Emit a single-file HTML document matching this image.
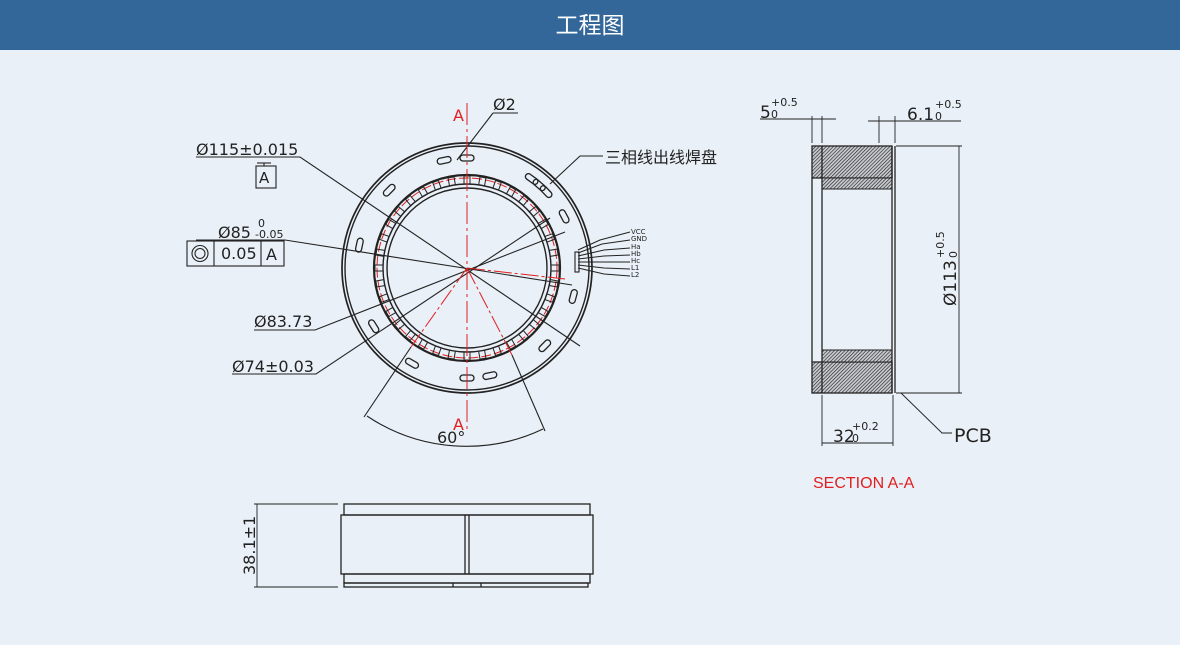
<!DOCTYPE html>
<html><head><meta charset="utf-8"><style>
html,body{margin:0;padding:0;width:1180px;height:645px;background:#eaf0f7;overflow:hidden}
.hd{position:absolute;left:0;top:0;width:1180px;height:50px;background:#336699;color:#fff;font:23px "Liberation Sans","Noto Sans CJK SC",sans-serif;text-align:center;line-height:50px}
svg{position:absolute;left:0;top:0}
text{font-family:"DejaVu Sans","Liberation Sans","Noto Sans CJK SC",sans-serif;fill:#222}
</style></head><body>
<div class="hd">工程图</div>
<svg width="1180" height="645" viewBox="0 0 1180 645">
<defs>
<pattern id="h" width="2.5" height="2.5" patternUnits="userSpaceOnUse" patternTransform="rotate(45)"><rect width="2.5" height="2.5" fill="#c8ccd2"/><line x1="0" y1="0" x2="0" y2="2.5" stroke="#222" stroke-width="1.3"/></pattern>
<rect id="t" x="464" y="176" width="6" height="8" fill="none" stroke="#222" stroke-width="1"/>
<rect id="s" x="460" y="155" width="14" height="6" rx="3" fill="none" stroke="#222" stroke-width="1.3"/>
</defs>
<g fill="none" stroke="#222" stroke-width="1.4">
<circle cx="467" cy="268" r="125" stroke-width="1.7"/>
<circle cx="467" cy="268" r="122"/>
<circle cx="467" cy="268" r="93" stroke-width="2.2"/>
<circle cx="467" cy="268" r="84"/>
<circle cx="467" cy="268" r="80"/>
</g>
<circle cx="467" cy="268" r="90" fill="none" stroke="#e02020" stroke-width="1" stroke-dasharray="10 3"/>
<g>
<use href="#t"/><use href="#t" transform="rotate(10 467 268)"/><use href="#t" transform="rotate(20 467 268)"/><use href="#t" transform="rotate(30 467 268)"/><use href="#t" transform="rotate(40 467 268)"/><use href="#t" transform="rotate(50 467 268)"/><use href="#t" transform="rotate(60 467 268)"/><use href="#t" transform="rotate(70 467 268)"/><use href="#t" transform="rotate(80 467 268)"/><use href="#t" transform="rotate(90 467 268)"/><use href="#t" transform="rotate(100 467 268)"/><use href="#t" transform="rotate(110 467 268)"/><use href="#t" transform="rotate(120 467 268)"/><use href="#t" transform="rotate(130 467 268)"/><use href="#t" transform="rotate(140 467 268)"/><use href="#t" transform="rotate(150 467 268)"/><use href="#t" transform="rotate(160 467 268)"/><use href="#t" transform="rotate(170 467 268)"/><use href="#t" transform="rotate(180 467 268)"/><use href="#t" transform="rotate(190 467 268)"/><use href="#t" transform="rotate(200 467 268)"/><use href="#t" transform="rotate(210 467 268)"/><use href="#t" transform="rotate(220 467 268)"/><use href="#t" transform="rotate(230 467 268)"/><use href="#t" transform="rotate(240 467 268)"/><use href="#t" transform="rotate(250 467 268)"/><use href="#t" transform="rotate(260 467 268)"/><use href="#t" transform="rotate(270 467 268)"/><use href="#t" transform="rotate(280 467 268)"/><use href="#t" transform="rotate(290 467 268)"/><use href="#t" transform="rotate(300 467 268)"/><use href="#t" transform="rotate(310 467 268)"/><use href="#t" transform="rotate(320 467 268)"/><use href="#t" transform="rotate(330 467 268)"/><use href="#t" transform="rotate(340 467 268)"/><use href="#t" transform="rotate(350 467 268)"/>
</g>
<g>
<use href="#s"/><use href="#s" transform="rotate(-12 467 268)"/><use href="#s" transform="rotate(-45 467 268)"/><use href="#s" transform="rotate(-78 467 268)"/><use href="#s" transform="rotate(-122 467 268)"/><use href="#s" transform="rotate(-150 467 268)"/><use href="#s" transform="rotate(180 467 268)"/><use href="#s" transform="rotate(168 467 268)"/><use href="#s" transform="rotate(135 467 268)"/><use href="#s" transform="rotate(105 467 268)"/><use href="#s" transform="rotate(62 467 268)"/><use href="#s" transform="rotate(36 467 268)"/><use href="#s" transform="rotate(41 467 268)"/><use href="#s" transform="rotate(46 467 268)"/>
</g>
<g fill="none" stroke="#222" stroke-width="1.1">
<polyline points="196,157 300,157 580,346"/>
<polyline points="196,240 285,240 572,285"/>
<polyline points="254,330 315,330 565,232"/>
<polyline points="232,374 316,374 550,218"/>
<polyline points="493,113 518,113"/><line x1="493" y1="113" x2="457" y2="160"/>
<polyline points="603,156 580,156 550,184"/>
<line x1="411" y1="347" x2="364" y2="417"/><line x1="512" y1="355" x2="545" y2="431"/>
<path d="M367,416 A178,178 0 0 0 543,429"/>
<polyline points="257,163 271,163"/><line x1="264" y1="163" x2="264" y2="166"/>
<rect x="256" y="166" width="20" height="22"/>
<rect x="187" y="241" width="97" height="25"/><line x1="214" y1="241" x2="214" y2="266"/><line x1="261" y1="241" x2="261" y2="266"/>
<circle cx="200" cy="253.5" r="8"/><circle cx="200" cy="253.5" r="5"/>
<polyline points="578,250 600,240 630,232"/><polyline points="578,253 602,244 630,240"/><polyline points="578,256 604,250 630,248"/><polyline points="578,259 604,256 630,255"/><polyline points="578,262 604,262 630,262"/><polyline points="578,265 604,268 630,269"/><polyline points="578,268 604,274 630,276"/>
<rect x="575" y="252" width="4" height="20"/>
</g>
<g font-size="16">
<text x="196" y="155">Ø115±0.015</text>
<text x="259" y="183" font-size="15">A</text>
<text x="218" y="238">Ø85</text><text x="255" y="238" font-size="11">-0.05</text><text x="258" y="227" font-size="11">0</text>
<text x="221" y="259">0.05</text><text x="266" y="260">A</text>
<text x="254" y="327">Ø83.73</text>
<text x="232" y="372">Ø74±0.03</text>
<text x="493" y="110">Ø2</text>
<text x="437" y="443">60°</text>
<text x="605" y="163" font-family="'Noto Sans CJK SC',sans-serif">三相线出线焊盘</text>
</g>
<g font-size="7">
<text x="631" y="234">VCC</text><text x="631" y="241">GND</text><text x="631" y="249">Ha</text><text x="631" y="256">Hb</text><text x="631" y="263">Hc</text><text x="631" y="270">L1</text><text x="631" y="277">L2</text>
</g>
<g stroke="#e02020" stroke-width="1" fill="none">
<line x1="467" y1="103" x2="467" y2="432" stroke-dasharray="22 4 3 4"/>
<line x1="467" y1="268" x2="411" y2="347" stroke-dasharray="18 3 3 3"/>
<line x1="467" y1="268" x2="512" y2="355" stroke-dasharray="18 3 3 3"/>
<line x1="467" y1="268" x2="565" y2="279" stroke-dasharray="18 3 3 3"/>
</g>
<text x="453" y="121" font-size="16" style="fill:#e02020">A</text>
<text x="453" y="430" font-size="16" style="fill:#e02020">A</text>
<rect x="812" y="146" width="80" height="32" fill="url(#h)" stroke="#222" stroke-width="1.3"/>
<rect x="822" y="178" width="70" height="11" fill="url(#h)" stroke="#222"/>
<rect x="812" y="362" width="80" height="31" fill="url(#h)" stroke="#222" stroke-width="1.3"/>
<rect x="822" y="350" width="70" height="12" fill="url(#h)" stroke="#222"/>
<g fill="none" stroke="#222" stroke-width="1.3">
<line x1="812" y1="178" x2="812" y2="362"/>
<line x1="822" y1="146" x2="822" y2="393"/>
<line x1="892" y1="146" x2="892" y2="393"/>
<line x1="895" y1="146" x2="895" y2="393"/>
</g>
<g fill="none" stroke="#222" stroke-width="0.9">
<line x1="812" y1="116" x2="812" y2="143"/><line x1="822" y1="116" x2="822" y2="143"/>
<line x1="760" y1="119" x2="836" y2="119"/>
<line x1="879" y1="116" x2="879" y2="143"/><line x1="895" y1="116" x2="895" y2="143"/>
<line x1="868" y1="121" x2="961" y2="121"/>
<line x1="896" y1="146" x2="962" y2="146"/><line x1="896" y1="393" x2="962" y2="393"/>
<line x1="959" y1="146" x2="959" y2="393"/>
<line x1="822" y1="395" x2="822" y2="446"/><line x1="893" y1="395" x2="893" y2="446"/>
<line x1="822" y1="443" x2="893" y2="443"/>
<polyline points="901,393 942,433 952,433"/>
</g>
<g font-size="17">
<text x="760" y="118">5</text><text x="771" y="106" font-size="11">+0.5</text><text x="771" y="118" font-size="11">0</text>
<text x="907" y="120">6.1</text><text x="935" y="108" font-size="11">+0.5</text><text x="935" y="120" font-size="11">0</text>
<text x="833" y="442">32</text><text x="852" y="430" font-size="11">+0.2</text><text x="852" y="442" font-size="11">0</text>
<text x="954" y="442" font-size="19">PCB</text>
<g transform="translate(956,306) rotate(-90)"><text x="0" y="0">Ø113</text><text x="48" y="-12" font-size="11">+0.5</text><text x="48" y="1" font-size="11">0</text></g>
</g>
<text x="813" y="488" font-size="16" style="fill:#e02020;font-family:'Liberation Sans',sans-serif">SECTION A-A</text>
<g fill="none" stroke="#222" stroke-width="1.3">
<rect x="344" y="504" width="246" height="11"/>
<rect x="341" y="515" width="252" height="59"/>
<rect x="344" y="574" width="246" height="9"/>
<rect x="344" y="583" width="244" height="4"/>
<line x1="465" y1="515" x2="465" y2="574"/><line x1="469" y1="515" x2="469" y2="574"/>
<line x1="453" y1="583" x2="453" y2="587"/><line x1="481" y1="583" x2="481" y2="587"/>
</g>
<g fill="none" stroke="#222" stroke-width="0.9">
<line x1="254" y1="504" x2="338" y2="504"/><line x1="254" y1="587" x2="338" y2="587"/>
<line x1="257" y1="504" x2="257" y2="587"/>
</g>
<text transform="translate(255,575) rotate(-90)" font-size="16">38.1±1</text>
</svg>
</body></html>
